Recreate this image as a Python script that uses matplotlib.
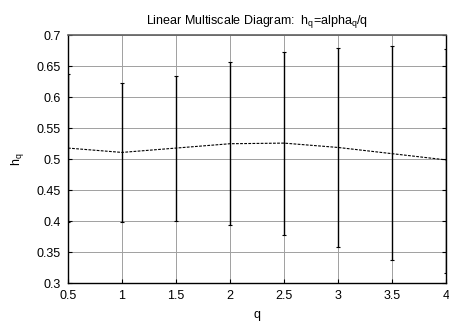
import matplotlib
matplotlib.use("Agg")
import matplotlib.pyplot as plt
import numpy as np

# Values.
q = [0.5, 1.0, 1.5, 2.0, 2.5, 3.0, 3.5, 4.0]
h_q = [0.518, 0.511, 0.518, 0.525, 0.526, 0.519, 0.509, 0.499]
h_upper = [0.637, 0.623, 0.634, 0.656, 0.672, 0.680, 0.682, 0.677]
h_lower = [0.399, 0.399, 0.400, 0.394, 0.378, 0.358, 0.338, 0.317]

plt.rcParams['font.family'] = ['Liberation Sans', 'DejaVu Sans']
plt.rcParams['font.size'] = 9

fig = plt.figure(figsize=(4.49, 3.25), dpi=100)
ax = fig.add_axes([0.1514, 0.128, 0.8419, 0.764])

h = np.array(h_q)
err = [h - np.array(h_lower), np.array(h_upper) - h]
ax.errorbar(q, h_q, yerr=err, fmt='none', ecolor='black', elinewidth=1.0,
            capsize=1.6, capthick=0.8, zorder=3)
ax.plot(q, h_q, color='black', linestyle=(0, (2.5, 1.2)), linewidth=0.8, zorder=4)

ax.set_xlim(0.5, 4)
ax.set_ylim(0.3, 0.7)
ax.set_xticks(np.arange(0.5, 4.01, 0.5))
ax.set_xticklabels(['0.5', '1', '1.5', '2', '2.5', '3', '3.5', '4'])
ax.set_yticks(np.arange(0.3, 0.701, 0.05))
ax.set_yticklabels(['0.3', '0.35', '0.4', '0.45', '0.5', '0.55', '0.6', '0.65', '0.7'])
ax.grid(True, color='#a0a0a0', linewidth=0.7)
ax.set_axisbelow(True)
ax.tick_params(direction='in', length=3, right=True, top=False, colors='black', labelsize=9)
ax.tick_params(axis='y', pad=5)
ax.tick_params(axis='x', pad=5)
for s in ['left', 'right', 'bottom']:
    ax.spines[s].set_color('black')
    ax.spines[s].set_linewidth(1.0)
ax.spines['top'].set_color('#606060')
ax.spines['top'].set_linewidth(1.2)

ax.set_xlabel('q', labelpad=5)
ax.set_ylabel('h$_\\mathregular{q}$', labelpad=8)
ax.set_title('Linear Multiscale Diagram:  h$_\\mathregular{q}$=alpha$_\\mathregular{q}$/q',
             fontsize=9, pad=8)

fig.savefig('out.png', dpi=100)
